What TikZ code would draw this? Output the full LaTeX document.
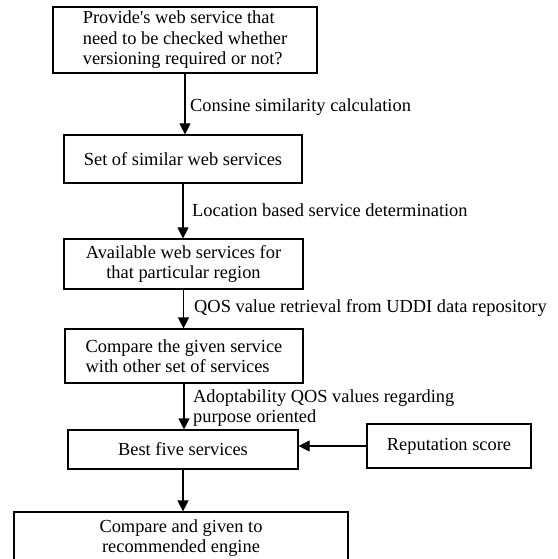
\documentclass[tikz,border=0pt]{standalone}
\usepackage{fontspec}
\setmainfont{Liberation Serif}
\usetikzlibrary{arrows.meta,calc}
\newcommand{\figfs}{\fontsize{18.4}{20.5}\selectfont}
\begin{document}
\begin{tikzpicture}[x=1pt,y=-1pt,
  box/.style={draw, line width=1.2pt, inner sep=0pt, font=\figfs, align=center},
  lab/.style={inner sep=0pt, font=\figfs, anchor=base west},
  arr/.style={draw, line width=1.2pt, -{Triangle[width=11pt,length=11pt]}}]
\fill[white] (0,0) rectangle (557,559);
\useasboundingbox (0,0) rectangle (557,559);

\node[box, minimum width=264pt, minimum height=66pt, align=left] (b1) at (185,40)
  {Provide\textquotesingle s web service that\\need to be checked whether\\versioning required or not?};
\node[box, minimum width=238pt, minimum height=48pt] (b2) at (183,159) {Set of similar web services};
\node[box, minimum width=239pt, minimum height=50pt] (b3) at (183.5,264) {Available web services for\\that particular region};
\node[box, minimum width=238pt, minimum height=54pt, align=left] (b4) at (184,356) {Compare the given service\\with other set of services};
\node[box, minimum width=230pt, minimum height=39pt] (b5) at (183,449.5) {Best five services};
\node[box, minimum width=164pt, minimum height=44pt] (rep) at (449,446) {Reputation score};
\node[box, minimum width=334pt, minimum height=52pt] (fin) at (181,538) {Compare and given to\\recommended engine};

\node[lab] (l1) at (190,112) {Consine similarity calculation};
\node[lab] (l2) at (192,216) {Location based service determination};
\node[lab] (l3) at (194,312) {QOS value retrieval from UDDI data repository};
\node[inner sep=0pt, font=\figfs, align=left, anchor=north west] (l4) at (193,389.5)
  {Adoptability QOS values regarding\\purpose oriented};

\draw[arr] (b1.south) -- (b1.south |- b2.north);
\draw[arr] (b2.south) -- (b2.south |- b3.north);
\draw[arr] (b3.south) -- (b3.south |- b4.north);
\draw[arr] (b4.south) -- (b4.south |- b5.north);
\draw[arr] (b5.south) -- (b5.south |- fin.north);
\draw[arr] (rep.west) -- (rep.west -| b5.east);
\end{tikzpicture}
\end{document}
